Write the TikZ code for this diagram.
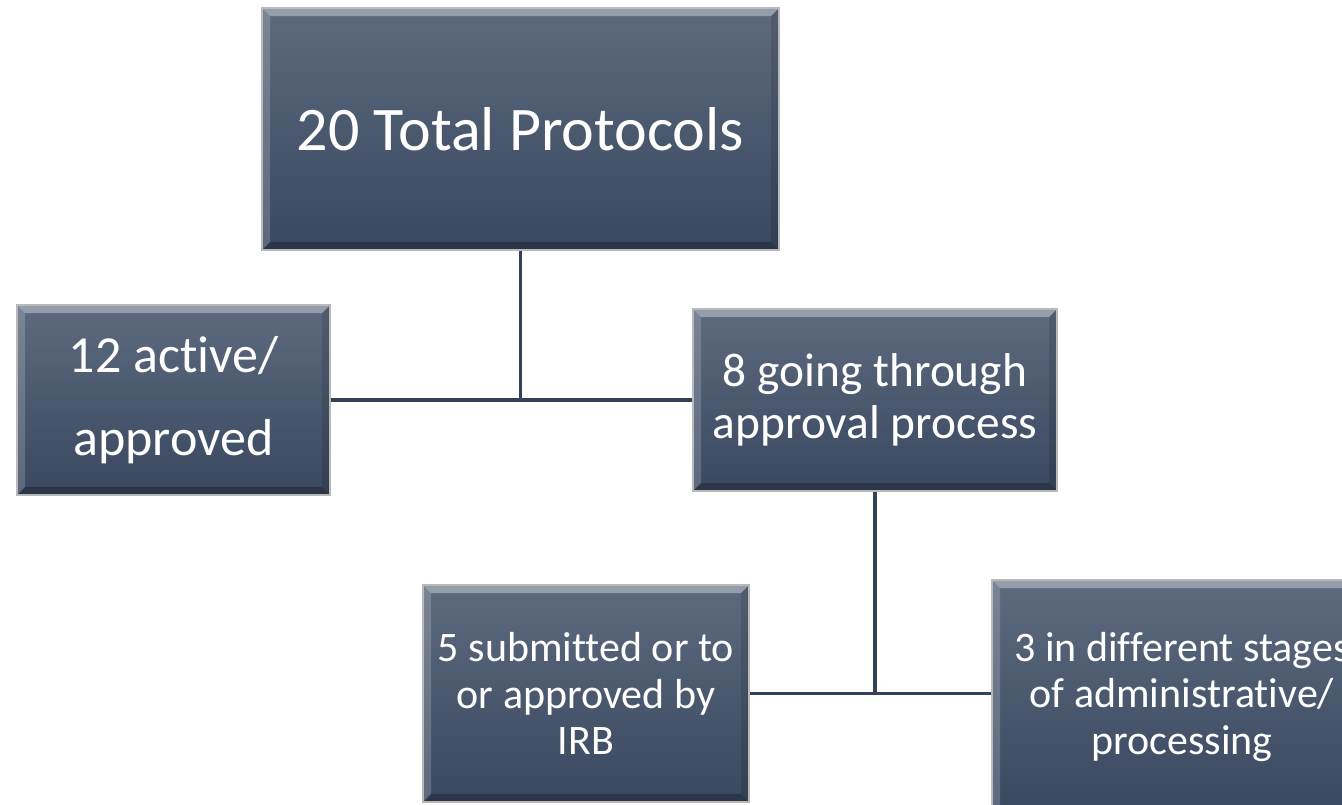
\documentclass[tikz,border=0pt]{standalone}
\usepackage{fontspec}
\setmainfont{Carlito}[RawFeature={-liga;-clig;-calt;-dlig}]
\usepackage{tikz}
\definecolor{boxtop}{RGB}{93,106,126}
\definecolor{boxbot}{RGB}{57,72,96}
\definecolor{linegray}{RGB}{52,66,88}

\tikzset{
  bevel/.style={path picture={
      \coordinate (nw) at (path picture bounding box.north west);
      \coordinate (ne) at (path picture bounding box.north east);
      \coordinate (sw) at (path picture bounding box.south west);
      \coordinate (se) at (path picture bounding box.south east);
      \fill[white,opacity=0.35] (nw) -- (ne) -- ([shift={(-4pt,-4pt)}]ne) -- ([shift={(4pt,-4pt)}]nw) -- cycle;
      \fill[white,opacity=0.18] (nw) -- (sw) -- ([shift={(4pt,4pt)}]sw) -- ([shift={(4pt,-4pt)}]nw) -- cycle;
      \fill[black,opacity=0.12] (ne) -- (se) -- ([shift={(-4pt,4pt)}]se) -- ([shift={(-4pt,-4pt)}]ne) -- cycle;
      \fill[black,opacity=0.25] (sw) -- (se) -- ([shift={(-4pt,4pt)}]se) -- ([shift={(4pt,4pt)}]sw) -- cycle;
    }},
  protobox/.style={rectangle, draw=gray!55, line width=0.6pt, top color=boxtop, bottom color=boxbot,
    text=white, align=center, inner sep=0pt, bevel},
  link/.style={draw=linegray, line width=1.7pt},
}

\begin{document}
\begin{tikzpicture}[x=0.5pt,y=-0.5pt]

    \useasboundingbox (0,0) rectangle (1342,804);
    \clip (0,0) rectangle (1342,804);

    \node[protobox, minimum width=258.5pt, minimum height=121pt, font=\fontsize{31}{37}\selectfont] (total) at (520.5,129) {20 Total Protocols};
    \node[protobox, minimum width=156.5pt, minimum height=95pt, font=\fontsize{26}{41.5}\selectfont] (active) at (173.5,400) {12 active/\\approved};
    \node[protobox, minimum width=182pt, minimum height=91pt, font=\fontsize{23.7}{26}\selectfont] (going) at (875,400) {8 going through\\approval process};
    \node[protobox, minimum width=163pt, minimum height=108.5pt, font=\fontsize{21}{23.3}\selectfont] (irb) at (586,693.5) {5 submitted or to\\or approved by\\IRB};
    \node[protobox, minimum width=190pt, minimum height=117pt, font=\fontsize{21}{23.3}\selectfont] (admin) at (1182,697) {3 in different stages\\of administrative/\\processing};

    \draw[link] (total.south) -- (total.south |- active.east);
    \draw[link] (active.east) -- (going.west);
    \draw[link] (going.south) -- (going.south |- irb.east);
    \draw[link] (irb.east) -- (irb.east -| admin.west);

\end{tikzpicture}
\end{document}
